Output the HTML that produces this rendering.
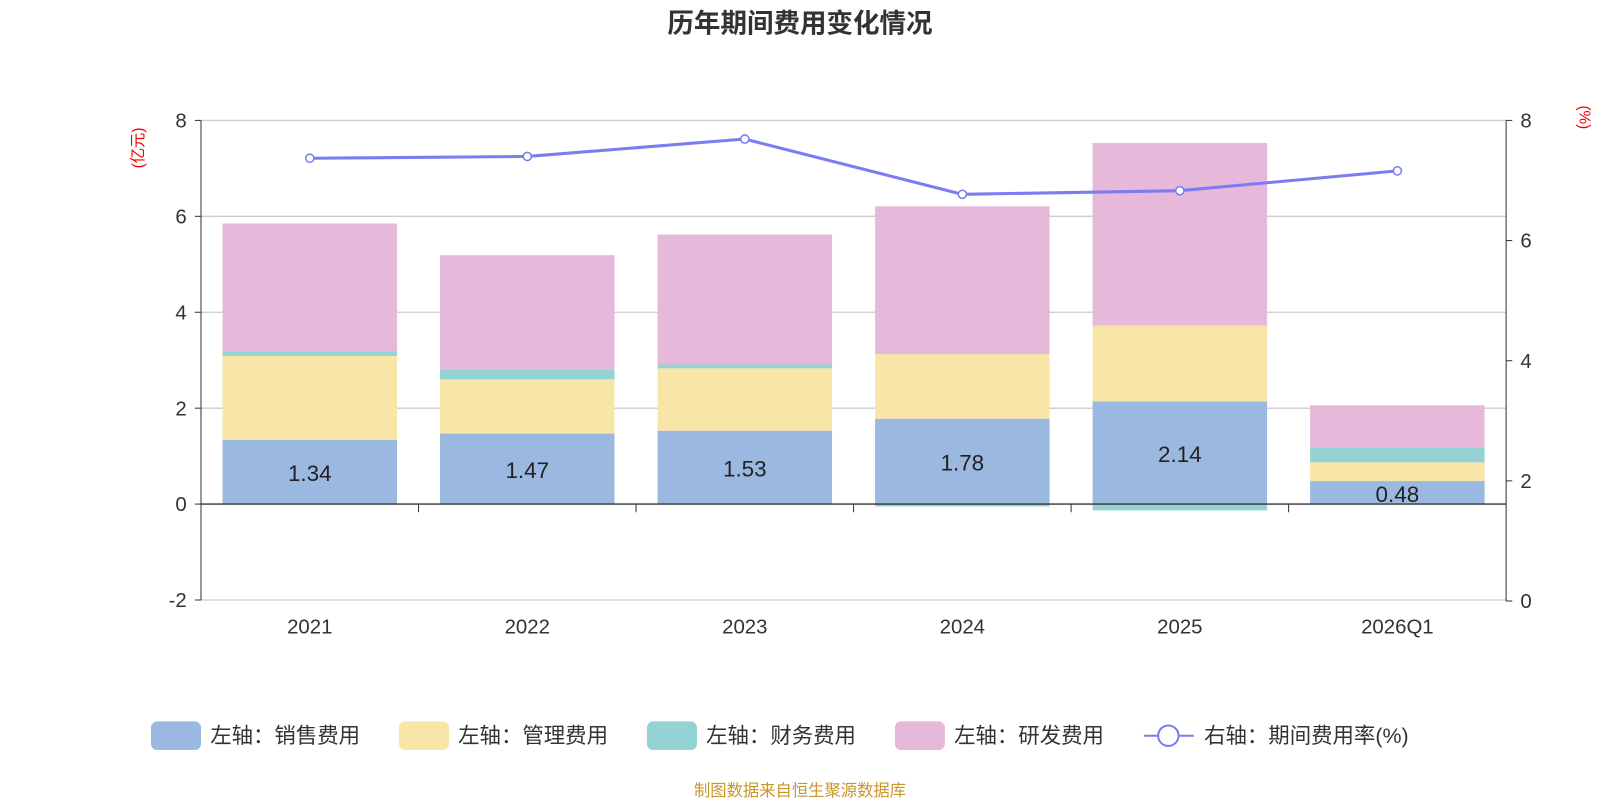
<!DOCTYPE html>
<html><head><meta charset="utf-8"><style>
body{margin:0;background:#fff;font-family:"Liberation Sans","Noto Sans CJK SC",sans-serif;}
svg text{font-family:"Liberation Sans","Noto Sans CJK SC",sans-serif;}
</style></head><body>
<svg id="c" width="1600" height="800" viewBox="0 0 1568 784" preserveAspectRatio="none" xmlns="http://www.w3.org/2000/svg">
<text x="784" y="32" text-anchor="middle" font-size="26" font-weight="bold" fill="#333">历年期间费用变化情况</text>
<text transform="translate(140,145) rotate(-90)" text-anchor="middle" font-size="15" fill="#e00">(亿元)</text>
<text transform="translate(1548,115) rotate(90)" text-anchor="middle" font-size="15" fill="#e00">(%)</text>
<g id="grid"></g><g id="bars"></g><g id="line"></g><g id="axes"></g>
<g id="legend" font-size="21" fill="#333"></g>
<text x="784" y="780" text-anchor="middle" font-size="16" fill="#c8962a">制图数据来自恒生聚源数据库</text>
</svg>
<script>
const categories=["2021","2022","2023","2024","2025","2026Q1"];
const sales=[1.34,1.47,1.53,1.78,2.14,0.48];
const admin=[1.75,1.13,1.30,1.35,1.58,0.39];
const finance=[0.10,0.21,0.08,-0.05,-0.13,0.30];
const rnd=[2.66,2.38,2.71,3.08,3.81,0.89];
const rate=[7.37,7.40,7.69,6.77,6.83,7.16];
const leftTicks=[-2,0,2,4,6,8];
const rightTicks=[0,2,4,6,8];
const NS="http://www.w3.org/2000/svg";
const X0=197,X1=1476,band=(X1-X0)/categories.length;
const yL=v=>494-v*47;
const yR=v=>589-v*(471/8);
const xc=i=>X0+band*(i+0.5);
function mk(p,tag,at){const e=document.createElementNS(NS,tag);for(const k in at)e.setAttribute(k,at[k]);document.getElementById(p).appendChild(e);return e;}
leftTicks.forEach(t=>{
 if(t!==0){const g=mk("grid","line",{x1:X0,x2:X1,y1:yL(t),y2:yL(t),stroke:"#ccc","stroke-width":1.3});
 
 }
 const l=mk("axes","text",{x:183,y:yL(t)+7,"text-anchor":"end","font-size":20,fill:"#333"});l.textContent=t;
 
 
 mk("axes","line",{x1:X0-6,x2:X0,y1:yL(t),y2:yL(t),stroke:"#333"});
});
rightTicks.forEach(t=>{
 const l=mk("axes","text",{x:1490,y:yR(t)+7,"font-size":20,fill:"#333"});l.textContent=t;
 
 
 mk("axes","line",{x1:X1,x2:X1+6,y1:yR(t),y2:yR(t),stroke:"#333"});
});
mk("axes","line",{x1:X0,x2:X0,y1:yL(8),y2:yL(-2),stroke:"#333"});
mk("axes","line",{x1:X1,x2:X1,y1:yR(8),y2:yR(0),stroke:"#333"});
mk("axes","line",{x1:X0,x2:X1,y1:yL(0),y2:yL(0),stroke:"#333","stroke-width":1.3});
const series=[[sales,"#9bb8e1","sales"],[admin,"#f7e6a8","admin"],[finance,"#93d3d4","finance"],[rnd,"#e6b8d9","rnd"]];
categories.forEach((c,i)=>{
 const xl=mk("axes","text",{x:xc(i),y:621,"text-anchor":"middle","font-size":20,fill:"#333"});xl.textContent=c;
 
 
 if(i>0)mk("axes","line",{x1:X0+band*i,x2:X0+band*i,y1:494,y2:502,stroke:"#333"});
 let pos=0,neg=0;const bw=171;
 series.forEach(([arr,col,nm])=>{
  const v=arr[i];let a,b;
  if(v>=0){a=pos;b=pos+v;pos=b;}else{a=neg;b=neg+v;neg=b;}
  const r=mk("bars","rect",{x:xc(i)-bw/2,y:Math.min(yL(a),yL(b)),width:bw,height:Math.abs(yL(a)-yL(b)),fill:col});
  
  
 });
 const t=mk("bars","text",{x:xc(i),y:yL(sales[i]/2)+9,"text-anchor":"middle","font-size":22,fill:"#222"});
 t.textContent=sales[i].toFixed(2);
 
 
});
const pl=mk("line","polyline",{points:rate.map((v,i)=>xc(i)+","+yR(v)).join(" "),fill:"none",stroke:"#7b7cf0","stroke-width":3});


rate.forEach((v,i)=>{const p=mk("line","circle",{cx:xc(i),cy:yR(v),r:4,fill:"#fff",stroke:"#7b7cf0","stroke-width":1.5});
 
 });
const leg=[["#9bb8e1","左轴：销售费用",148],["#f7e6a8","左轴：管理费用",391],["#93d3d4","左轴：财务费用",634],["#e6b8d9","左轴：研发费用",877]];
leg.forEach(([col,txt,x])=>{
 const r=mk("legend","rect",{x:x,y:707,width:49,height:28,rx:6,fill:col});
 
 
 const t=mk("legend","text",{x:x+58,y:728});t.textContent=txt;
 
 
});
mk("legend","line",{x1:1121,x2:1170,y1:721,y2:721,stroke:"#7b7cf0","stroke-width":2});
mk("legend","circle",{cx:1145,cy:721,r:10,fill:"#fff",stroke:"#7b7cf0","stroke-width":2});
const lt=mk("legend","text",{x:1180,y:728});lt.textContent="右轴：期间费用率(%)";


</script>
</body></html>
